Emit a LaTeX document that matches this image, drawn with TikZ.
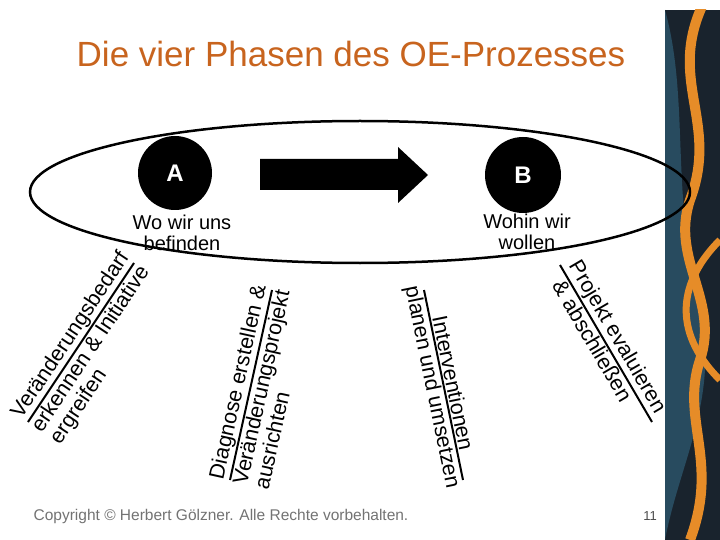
\documentclass[tikz,border=0pt]{standalone}
\usepackage{fontspec}
\setmainfont{Liberation Sans}
\definecolor{navy}{RGB}{25,35,45}
\definecolor{teal2}{RGB}{40,75,95}
\definecolor{orng}{RGB}{230,140,40}
\definecolor{titlec}{RGB}{200,100,30}
\begin{document}
\begin{tikzpicture}[x=1pt,y=-1pt,
  lbl/.style={font=\fontsize{20}{21}\selectfont, inner sep=2pt},
  rlbl/.style={font=\fontsize{21.5}{22}\selectfont, inner sep=2pt},
  phase/.style={line width=2pt}]
\useasboundingbox (0,0) rectangle (720,540);
\fill[white] (0,0) rectangle (720,540);
% decorative strip
\begin{scope}
\clip (665,10) rectangle (720,540);
\fill[navy] (665,10) rectangle (720,540);
\fill[teal2] (665,10) .. controls (690,100) and (670,200) .. (700,300) .. controls (720,400) and (680,460) .. (665,540) -- cycle;
\draw[orng, line width=10pt] (705,0) .. controls (665,80) and (720,120) .. (690,200) .. controls (670,260) and (720,300) .. (700,360) .. controls (680,420) and (720,460) .. (690,540);
\draw[orng, line width=7pt] (720,240) .. controls (680,280) and (670,330) .. (720,380);
\end{scope}
\node[text=titlec, font=\fontsize{35}{37}\selectfont] (title) at (351,54) {Die vier Phasen des OE-Prozesses};
\draw[line width=2.5pt] (360,192) ellipse (330 and 71);
\node[circle, fill=black, minimum size=74pt, text=white, font=\bfseries\fontsize{24}{26}\selectfont] (A) at (175,173) {A};
\node[circle, fill=black, minimum size=76pt, text=white, font=\bfseries\fontsize{24}{26}\selectfont] (B) at (523,175) {B};
\fill (260,159) -- (398,159) -- (398,147) -- (428,175) -- (398,203) -- (398,190) -- (260,190) -- cycle;
\node[lbl, align=center] (wo) at (182,233) {Wo wir uns\\befinden};
\node[lbl, align=center] (wohin) at (527,232) {Wohin wir\\wollen};
% phase lines
\coordinate (l1a) at (28,422); \coordinate (l1b) at (134,263);
\coordinate (l2a) at (230,480); \coordinate (l2b) at (272,290);
\coordinate (l3a) at (424,290); \coordinate (l3b) at (463,480);
\coordinate (l4a) at (560,265); \coordinate (l4b) at (652,422);
\draw[phase] (l1a) -- (l1b);
\draw[phase] (l2a) -- (l2b);
\draw[phase] (l3a) -- (l3b);
\draw[phase] (l4a) -- (l4b);
\path (l1a) -- (l1b) node[rlbl, sloped, pos=0.5, anchor=south] (t1) {Veränderungsbedarf}
  node[rlbl, sloped, pos=0.5, anchor=north, align=left] (t1b) {erkennen \& Initiative\\ergreifen};
\path (l2a) -- (l2b) node[rlbl, sloped, pos=0.5, anchor=south] (t2) {Diagnose erstellen \&}
  node[rlbl, sloped, pos=0.5, anchor=north, align=left] (t2b) {Veränderungsprojekt\\ausrichten};
\path (l3b) -- (l3a) node[rlbl, sloped, pos=0.5, anchor=south] (t3) {Interventionen}
  node[rlbl, sloped, pos=0.5, anchor=north] (t3b) {planen und umsetzen};
\path (l4b) -- (l4a) node[rlbl, sloped, pos=0.5, anchor=south] (t4) {Projekt evaluieren}
  node[rlbl, sloped, pos=0.55, anchor=north] (t4b) {\& abschließen};
\node[text=black!55, font=\fontsize{15.5}{17}\selectfont] (copy) at (221,516) {Copyright © Herbert Gölzner. Alle Rechte vorbehalten.};
\node[text=black!70, font=\fontsize{13}{14}\selectfont] (num) at (650,516) {11};
\end{tikzpicture}
\end{document}
